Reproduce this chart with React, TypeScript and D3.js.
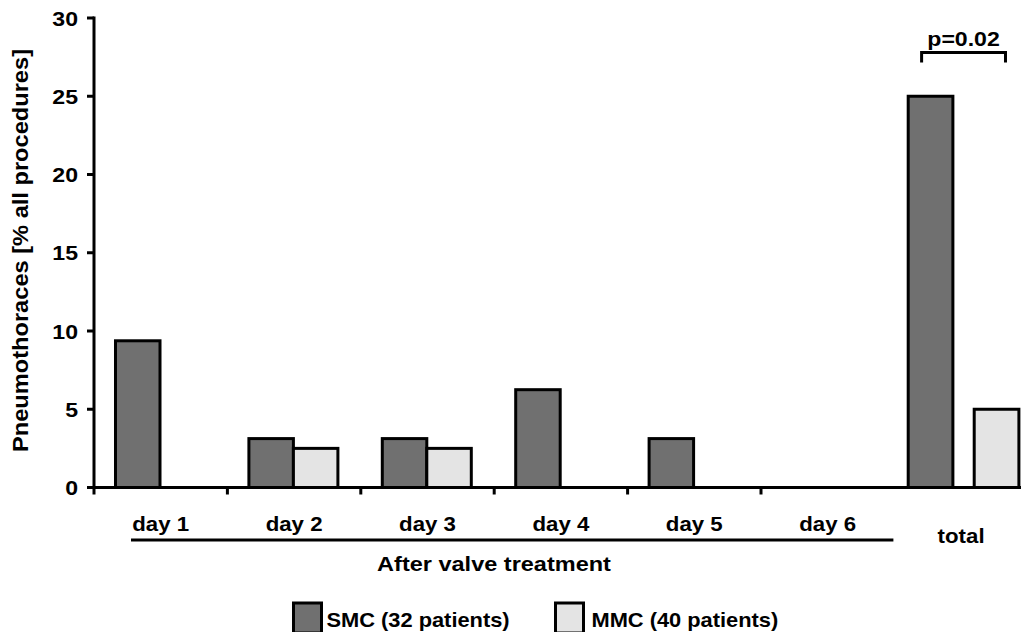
import React from "react";
import * as d3 from "d3";

const categories = ["day 1", "day 2", "day 3", "day 4", "day 5", "day 6", "total"];
const seriesNames = ["SMC", "MMC"];
const legendLabels = ["SMC (32 patients)", "MMC (40 patients)"];
const smcValues = [9.375, 3.125, 3.125, 6.25, 3.125, 0, 25];
const mmcValues = [0, 2.5, 2.5, 0, 0, 0, 5];
const yTicks = [0, 5, 10, 15, 20, 25, 30];
const colors = ["#707070", "#e4e4e4"];
const yTitle = "Pneumothoraces [% all procedures]";
const groupTitle = "After valve treatment";
const pLabel = "p=0.02";

const W = 1021;
const H = 632;
const FONT = "'Liberation Sans', Arial, sans-serif";

export default function App() {
  const y = d3.scaleLinear().domain([0, 30]).range([487.5, 18]);
  const x = d3.scaleBand<string>().domain(categories).range([94, 94 + 7 * 133.4]).padding(0);
  const subDay = d3.scaleBand<string>().domain(seriesNames).range([21.5, 110.5]).paddingInner(0);
  const subTotal = d3.scaleBand<string>().domain(seriesNames).range([13.8, 124.5]).paddingInner(0.323);
  const values = [smcValues, mmcValues];

  const T = (props: { x: number; y: number; anchor?: string; sx?: number; children: React.ReactNode }) => (
    <text
      transform={`translate(${props.x},${props.y}) scale(${props.sx ?? 1.1},1)`}
      textAnchor={props.anchor || "middle"}
      fontFamily={FONT}
      fontWeight="bold"
      fontSize={21}
      fill="#000"
    >
      {props.children}
    </text>
  );

  const bars: React.ReactNode[] = [];
  categories.forEach((c, i) => {
    const sub = c === "total" ? subTotal : subDay;
    seriesNames.forEach((s, j) => {
      const v = values[j][i];
      if (v <= 0) return;
      const bx = (x(c) as number) + (sub(s) as number);
      bars.push(
        <rect
          key={c + s}
          x={bx}
          y={y(v)}
          width={sub.bandwidth()}
          height={y(0) - y(v)}
          fill={colors[j]}
          stroke="#000"
          strokeWidth={3}
        />
      );
    });
  });

  const totalX = x("total") as number;
  const bL = totalX + (subTotal("SMC") as number) + subTotal.bandwidth() * 0.3;
  const bR = totalX + (subTotal("MMC") as number) + subTotal.bandwidth() * 0.7;
  const bY = y(27.8);
  const dayCats = categories.filter((c) => c !== "total");

  return (
    <svg width={W} height={H} style={{ position: "absolute", left: 0, top: 0, background: "#fff" }}>
      <rect x={0} y={0} width={W} height={H} fill="#fff" />
      {/* y axis title */}
      <text
        transform={`translate(28,${(49 + 452) / 2}) rotate(-90)`}
        textAnchor="middle"
        fontFamily={FONT}
        fontWeight="bold"
        fontSize={22}
        textLength={403}
        lengthAdjust="spacingAndGlyphs"
      >
        {yTitle}
      </text>
      {/* y axis */}
      <line x1={94} x2={94} y1={y(30) - 1.5} y2={y(0) + 1.5} stroke="#000" strokeWidth={3} />
      {yTicks.map((t) => (
        <g key={t}>
          <line x1={87} x2={94} y1={y(t)} y2={y(t)} stroke="#000" strokeWidth={3} />
          <T x={78} y={y(t) + 7.5} anchor="end">{t}</T>
        </g>
      ))}
      {bars}
      {/* x axis */}
      <line x1={92.5} x2={W} y1={y(0)} y2={y(0)} stroke="#000" strokeWidth={3} />
      {dayCats.map((c) => (
        <line key={c} x1={x(c) as number} x2={x(c) as number} y1={y(0)} y2={y(0) + 7} stroke="#000" strokeWidth={3} />
      ))}
      {categories.map((c) => (
        <T key={c} x={(x(c) as number) + x.bandwidth() / 2} y={c === "total" ? 543 : 531} sx={1.06}>
          {c}
        </T>
      ))}
      <line
        x1={(x("day 1") as number) + 37}
        x2={(x("day 6") as number) + x.bandwidth() - 1}
        y1={540}
        y2={540}
        stroke="#000"
        strokeWidth={3}
      />
      <T x={494} y={571} sx={1.12}>{groupTitle}</T>
      {/* significance bracket */}
      <path
        d={`M${bL},${bY + 10}V${bY}H${bR}V${bY + 10}`}
        fill="none"
        stroke="#000"
        strokeWidth={3}
      />
      <T x={(bL + bR) / 2} y={46}>{pLabel}</T>
      {/* legend */}
      {legendLabels.map((l, j) => {
        const lx = j === 0 ? 293.5 : 555.5;
        const tx = j === 0 ? 33 : 36;
        return (
          <g key={l}>
            <rect x={lx} y={603} width={28} height={30} fill={colors[j]} stroke="#000" strokeWidth={3} />
            <T x={lx + tx} y={626.5} anchor="start" sx={1.04}>{l}</T>
          </g>
        );
      })}
    </svg>
  );
}
